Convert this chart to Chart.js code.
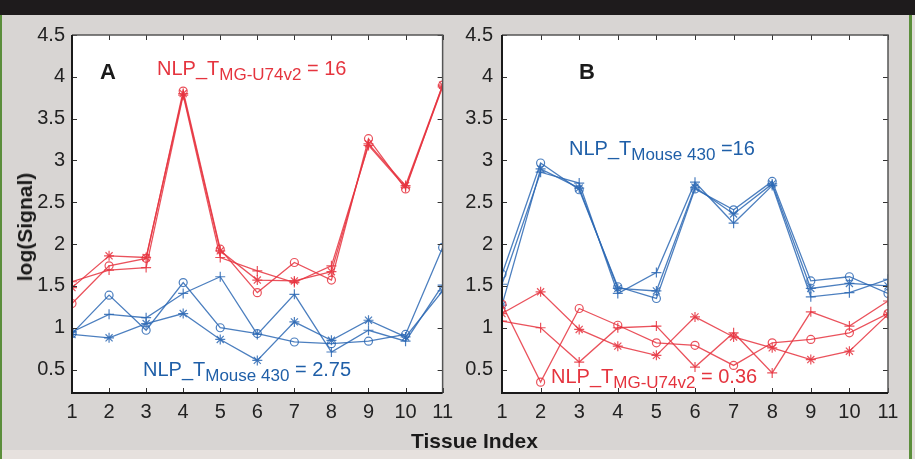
<!DOCTYPE html>
<html>
<head>
<meta charset="utf-8">
<script src="https://cdn.jsdelivr.net/npm/chart.js@4.4.1/dist/chart.umd.min.js"></script>
<style>
  html, body { margin:0; padding:0; }
  body { width:915px; height:459px; position:relative; overflow:hidden; background:#d8d5d3; font-family:"Liberation Sans", Arial, sans-serif; }
  #topbar { position:absolute; left:0; top:0; width:915px; height:15px; background:#1e1b1c; }
  #lborder { position:absolute; left:0; top:15px; width:2px; height:444px; background:#5b8e3b; }
  #rborder { position:absolute; left:909px; top:15px; width:3px; height:444px; background:#5b8e3b; }
  #redge { position:absolute; left:912px; top:15px; width:3px; height:444px; background:#e2dedc; }
  #bottomband { position:absolute; left:2px; top:450px; width:907px; height:9px; background:#e6e1de; }
  canvas { position:absolute; top:0; }
  #cA { left:0; }
  #cB { left:455px; }
  .t { position:absolute; white-space:nowrap; font-size:20px; line-height:20px; }
  .sub { font-size:17px; position:relative; top:5px; }
  .red { color:#e5343e; }
  .blue { color:#1f5fa8; }
  .lbl { font-weight:bold; color:#1a1a1a; }
  .big { font-size:22px; line-height:22px; }
</style>
</head>
<body>
<div id="topbar"></div>
<div id="lborder"></div>
<div id="rborder"></div>
<div id="redge"></div>
<div id="bottomband"></div>
<canvas id="cA" width="460" height="459"></canvas>
<canvas id="cB" width="460" height="459"></canvas>

<div class="t lbl big" style="left:100px; top:61px;">A</div>
<div class="t lbl big" style="left:579px; top:61px;">B</div>
<div class="t red" style="left:157px; top:58px;">NLP_T<span class="sub">MG-U74v2</span> = 16</div>
<div class="t blue" style="left:143px; top:359px;">NLP_T<span class="sub">Mouse 430</span> = 2.75</div>
<div class="t blue" style="left:569px; top:138px;">NLP_T<span class="sub">Mouse 430</span> =16</div>
<div class="t red" style="left:551px; top:366px;">NLP_T<span class="sub">MG-U74v2</span> = 0.36</div>
<div class="t lbl" style="left:411px; top:431px; font-size:21px;">Tissue Index</div>
<div class="t lbl" style="left:25px; top:227px; font-size:21px; transform:translate(-50%,-50%) rotate(-90deg);">log(Signal)</div>

<script>
// ---- data ----
const tissueIndex = [1, 2, 3, 4, 5, 6, 7, 8, 9, 10, 11];
const yTickValues = [0.5, 1, 1.5, 2, 2.5, 3, 3.5, 4, 4.5];

// Panel A
const aRedPlus   = [1.55, 1.69, 1.72, 3.78, 1.84, 1.68, 1.54, 1.74, 3.18, 2.68, 3.88];
const aRedStar   = [1.48, 1.86, 1.84, 3.80, 1.92, 1.57, 1.56, 1.67, 3.20, 2.70, 3.90];
const aRedCircle = [1.29, 1.74, 1.83, 3.83, 1.94, 1.42, 1.78, 1.57, 3.26, 2.66, 3.90];
const aBluePlus   = [0.95, 1.16, 1.12, 1.41, 1.61, 0.92, 1.40, 0.71, 0.97, 0.84, 1.51];
const aBlueStar   = [0.92, 0.88, 1.05, 1.17, 0.86, 0.61, 1.07, 0.85, 1.09, 0.89, 1.44];
const aBlueCircle = [0.93, 1.39, 0.97, 1.54, 1.00, 0.93, 0.83, 0.81, 0.84, 0.92, 1.96];

// Panel B
const bBluePlus   = [1.52, 2.86, 2.73, 1.41, 1.66, 2.74, 2.25, 2.70, 1.37, 1.42, 1.58];
const bBlueStar   = [1.27, 2.90, 2.67, 1.47, 1.44, 2.68, 2.36, 2.72, 1.47, 1.53, 1.50];
const bBlueCircle = [1.64, 2.97, 2.65, 1.49, 1.35, 2.66, 2.41, 2.75, 1.56, 1.61, 1.41];
const bRedPlus   = [1.08, 1.00, 0.59, 1.00, 1.02, 0.53, 0.94, 0.46, 1.19, 1.02, 1.32];
const bRedStar   = [1.17, 1.43, 0.98, 0.78, 0.67, 1.13, 0.89, 0.76, 0.62, 0.72, 1.16];
const bRedCircle = [1.28, 0.35, 1.23, 1.03, 0.82, 0.79, 0.55, 0.82, 0.86, 0.94, 1.17];

const RED = 'rgba(230,52,64,0.85)';
const BLUE = 'rgba(45,105,180,0.85)';

function ds(vals, color, style) {
  return {
    data: vals.map((v, i) => ({ x: tissueIndex[i], y: v })),
    borderColor: color,
    borderWidth: 1.3,
    pointStyle: style,
    pointRadius: style === 'circle' ? 4 : 5,
    pointBorderColor: color,
    pointBackgroundColor: 'rgba(0,0,0,0)',
    pointBorderWidth: 1.2,
    tension: 0,
    fill: false
  };
}

const framePlugin = {
  id: 'frame',
  beforeDraw(chart) {
    const a = chart.chartArea, c = chart.ctx;
    c.save(); c.fillStyle = '#ffffff';
    c.fillRect(a.left, a.top, a.right - a.left, a.bottom - a.top);
    c.restore();
  },
  afterDraw(chart) {
    const a = chart.chartArea, c = chart.ctx;
    const xs = chart.scales.x, ys = chart.scales.y;
    c.save();
    c.strokeStyle = '#333'; c.lineWidth = 1;
    const L = 5;
    xs.ticks.forEach(t => {
      const px = Math.round(xs.getPixelForValue(t.value)) + 0.5;
      c.beginPath();
      c.moveTo(px, a.top); c.lineTo(px, a.top + L);
      c.moveTo(px, a.bottom); c.lineTo(px, a.bottom - L);
      c.stroke();
    });
    ys.ticks.forEach(t => {
      const py = Math.round(ys.getPixelForValue(t.value)) + 0.5;
      c.beginPath();
      c.moveTo(a.left, py); c.lineTo(a.left + L, py);
      c.moveTo(a.right, py); c.lineTo(a.right - L, py);
      c.stroke();
    });
    c.strokeStyle = '#555'; c.lineWidth = 1.5;
    c.beginPath();
    c.moveTo(a.left, a.top); c.lineTo(a.right, a.top); c.lineTo(a.right, a.bottom);
    c.stroke();
    c.strokeStyle = '#1a1a1a'; c.lineWidth = 2;
    c.beginPath();
    c.moveTo(a.left, a.top); c.lineTo(a.left, a.bottom); c.lineTo(a.right, a.bottom);
    c.stroke();
    c.restore();
  }
};

function makeChart(id, yWidth, padRight, yPad, datasets) {
  return new Chart(document.getElementById(id), {
    type: 'line',
    data: { datasets },
    plugins: [framePlugin],
    options: {
      responsive: false,
      animation: false,
      layout: { padding: { left: 0, right: padRight, top: 35, bottom: 36 } },
      plugins: { legend: { display: false }, tooltip: { enabled: false } },
      scales: {
        x: {
          type: 'linear', min: 1, max: 11,
          afterBuildTicks(s) { s.ticks = tissueIndex.map(v => ({ value: v })); },
          ticks: { color: '#222', font: { family: 'Liberation Sans', size: 20 }, padding: 7, maxRotation: 0, autoSkip: false,
                   callback: v => String(v) },
          grid: { display: false, drawTicks: false },
          border: { display: false },
          afterFit(s) { s.height = 30; }
        },
        y: {
          type: 'linear', min: 0.22, max: 4.5,
          afterBuildTicks(s) { s.ticks = yTickValues.map(v => ({ value: v })); },
          ticks: { color: '#222', font: { family: 'Liberation Sans', size: 20 }, padding: yPad, autoSkip: false,
                   callback: v => String(v) },
          grid: { display: false, drawTicks: false },
          border: { display: false },
          afterFit(s) { s.width = yWidth; }
        }
      }
    }
  });
}

makeChart('cA', 72, 12, 7, [
  ds(aRedPlus, RED, 'cross'), ds(aRedStar, RED, 'star'), ds(aRedCircle, RED, 'circle'),
  ds(aBluePlus, BLUE, 'cross'), ds(aBlueStar, BLUE, 'star'), ds(aBlueCircle, BLUE, 'circle')
]);
makeChart('cB', 47, 27, 9, [
  ds(bRedPlus, RED, 'cross'), ds(bRedStar, RED, 'star'), ds(bRedCircle, RED, 'circle'),
  ds(bBluePlus, BLUE, 'cross'), ds(bBlueStar, BLUE, 'star'), ds(bBlueCircle, BLUE, 'circle')
]);
</script>
</body>
</html>
